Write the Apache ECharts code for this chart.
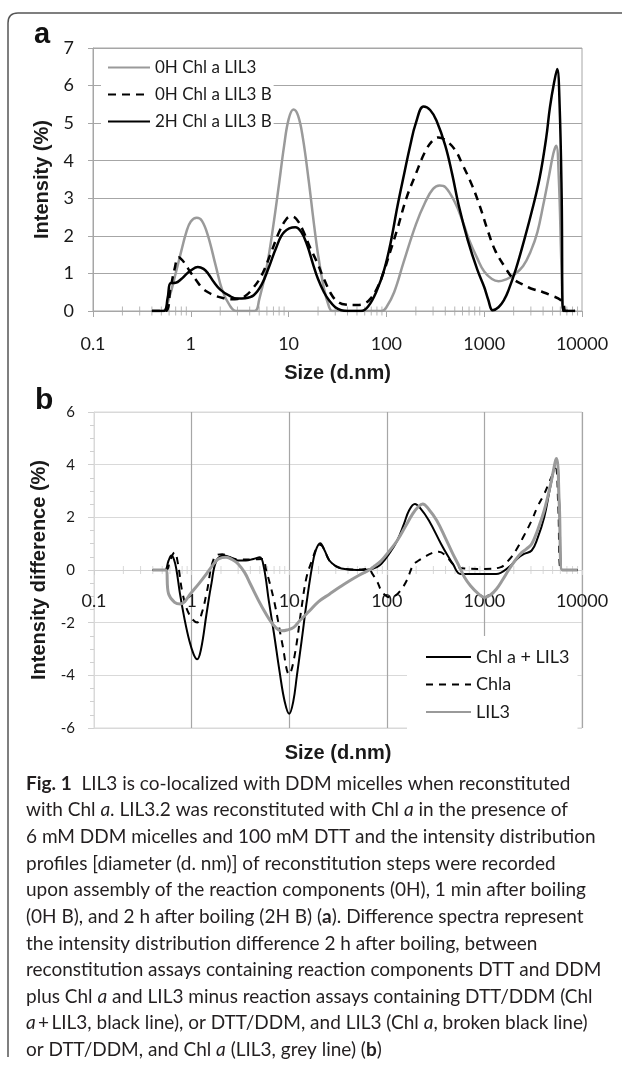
<!DOCTYPE html>
<html>
<head>
<meta charset="utf-8">
<script src="https://cdn.jsdelivr.net/npm/echarts@6/dist/echarts.min.js"></script>
<style>
html,body{margin:0;padding:0;background:#fff;}
#chart{width:622px;height:1067px;}
</style>
</head>
<body>
<div id="chart"></div>
<script>
// ---------- DATA ----------
const xTickLabels = ['0.1', '1', '10', '100', '1000', '10000'];

// Panel a: Intensity (%) vs size (d.nm)
const a_0H = [[0.4,0],[0.52,0],[0.6,0.35],[0.7,1.0],[0.8,1.6],[0.9,2.1],[1.0,2.38],[1.15,2.48],[1.3,2.4],[1.5,2.0],[1.8,1.2],[2.1,0.55],[2.5,0.15],[2.9,0],[4.5,0],[5.0,0.3],[6,1.2],[7,2.3],[8,3.4],[9,4.4],[10,5.1],[11.2,5.36],[12.5,5.2],[14,4.6],[16,3.5],[18,2.4],[20,1.5],[23,0.6],[26,0.1],[28,0],[90,0],[100,0.1],[120,0.5],[150,1.3],[200,2.3],[250,2.9],[300,3.25],[350,3.34],[400,3.3],[500,2.9],[600,2.4],[700,1.9],[850,1.4],[1000,1.05],[1200,0.85],[1400,0.79],[1700,0.85],[2000,0.95],[2500,1.2],[3000,1.6],[3500,2.1],[4000,2.8],[4600,3.6],[5100,4.2],[5450,4.4],[5800,3.5],[6200,1.0],[6500,0],[8500,0]];
const a_0HB = [[0.4,0],[0.55,0],[0.62,0.6],[0.68,1.1],[0.75,1.43],[0.82,1.35],[0.9,1.2],[1.0,1.02],[1.15,0.8],[1.3,0.62],[1.5,0.5],[1.8,0.4],[2.2,0.34],[2.6,0.31],[3.0,0.32],[3.6,0.4],[4.3,0.6],[5.3,0.95],[6.5,1.5],[8,2.1],[9.5,2.45],[10.7,2.52],[12,2.45],[14,2.15],[16.5,1.7],[19.5,1.3],[23,0.85],[28,0.4],[33,0.22],[38,0.17],[50,0.16],[60,0.2],[70,0.35],[80,0.6],[90,0.9],[110,1.6],[130,2.2],[160,3.0],[200,3.65],[250,4.25],[300,4.55],[340,4.62],[400,4.55],[500,4.3],[600,3.9],[750,3.35],[900,2.8],[1100,2.1],[1300,1.6],[1600,1.2],[2000,0.85],[2500,0.7],[3000,0.6],[4000,0.5],[5000,0.4],[6000,0.3],[6500,0.15],[6800,0],[8500,0]];
const a_2HB = [[0.4,0],[0.53,0],[0.58,0.35],[0.62,0.74],[0.7,0.75],[0.8,0.85],[0.9,0.98],[1.0,1.08],[1.18,1.17],[1.35,1.12],[1.5,1.0],[1.72,0.77],[2.0,0.57],[2.5,0.4],[3.0,0.33],[3.6,0.34],[4.4,0.42],[5.3,0.7],[6.3,1.17],[7.5,1.7],[9,2.1],[11.7,2.23],[13.5,2.1],[15.5,1.75],[17.7,1.26],[20,0.85],[23,0.5],[26,0.28],[30,0.1],[34.5,0.02],[40,0],[55,0],[65,0.12],[80,0.55],[95,1.1],[110,1.79],[130,2.8],[152,3.65],[175,4.4],[200,5.0],[240,5.44],[280,5.35],[325,5.07],[400,4.4],[470,3.65],[550,2.8],[680,1.88],[850,1.1],[1000,0.64],[1100,0.3],[1220,0.02],[1400,0.1],[1600,0.3],[1770,0.55],[2100,1.1],[2560,1.88],[3100,2.7],[3700,3.56],[4300,4.6],[4700,5.42],[5200,6.1],[5580,6.44],[5900,5.5],[6200,3.0],[6400,0],[8500,0]];

// Panel b: Intensity difference (%) vs size (d.nm)
const b_ChlaLIL3 = [[0.4,0],[0.53,0],[0.58,0.35],[0.62,0.55],[0.66,0.4],[0.7,0],[0.76,-0.9],[0.84,-1.8],[0.95,-2.7],[1.05,-3.2],[1.14,-3.39],[1.25,-3.0],[1.42,-1.68],[1.6,-0.5],[1.8,0.36],[2.16,0.55],[2.6,0.45],[3.0,0.36],[3.6,0.36],[4.3,0.42],[5.0,0.48],[5.5,0.1],[6.2,-1.2],[7.0,-2.44],[8.0,-3.9],[9.0,-5.0],[10,-5.46],[11,-5.0],[12,-4.0],[13.4,-2.69],[15,-1.3],[17.1,0.1],[18.7,0.74],[20.8,1.02],[23,0.75],[25.8,0.36],[30,0.15],[34.3,0.06],[50,0],[66,0.02],[80,0.12],[88,0.23],[105,0.6],[128,1.12],[150,1.75],[169,2.26],[194,2.51],[220,2.35],[270,1.88],[360,0.99],[420,0.55],[475,0.23],[570,-0.15],[870,-0.15],[1320,-0.15],[1770,0.1],[2200,0.45],[2550,0.61],[3050,0.74],[3500,1.2],[4100,2.0],[4700,3.1],[5470,4.16],[5850,2.5],[6270,0],[9000,0]];
const b_Chla = [[0.4,0],[0.55,0],[0.6,0.35],[0.67,0.67],[0.72,0.3],[0.81,-0.9],[0.95,-1.7],[1.14,-1.99],[1.28,-1.6],[1.42,-0.9],[1.71,0.48],[2.06,0.6],[2.6,0.45],[3,0.4],[4,0.4],[5.3,0.42],[5.8,0],[7,-1.17],[8.5,-2.8],[10,-3.96],[11.3,-3.3],[13.4,-1.42],[15,-0.3],[17.1,0.36],[19.5,0.9],[21,0.95],[23,0.75],[25.8,0.36],[30,0.15],[40,0.03],[55,0.02],[66,0.05],[70,-0.1],[80,-0.45],[88,-0.79],[100,-1.0],[110,-1.04],[125,-0.95],[140,-0.75],[160,-0.4],[187,0.2],[210,0.35],[245,0.5],[290,0.64],[340,0.69],[400,0.55],[475,0.23],[550,0.1],[625,0.06],[1000,0.04],[1450,0.1],[1800,0.4],[2100,0.74],[2500,1.25],[3050,1.88],[3500,2.4],[4100,2.89],[4700,3.4],[5350,3.85],[5700,2.5],[6100,0],[9000,0]];
const b_LIL3 = [[0.4,0],[0.54,0],[0.58,-0.9],[0.67,-1.23],[0.77,-1.29],[0.85,-1.2],[0.97,-0.91],[1.2,-0.5],[1.42,-0.15],[1.7,0.25],[1.89,0.42],[2.26,0.48],[2.6,0.4],[3.0,0.23],[3.5,-0.1],[4.0,-0.53],[5.3,-1.42],[7.0,-2.12],[8.4,-2.31],[9.5,-2.28],[11.1,-2.18],[13,-1.9],[16.2,-1.55],[20,-1.2],[26,-0.91],[33,-0.65],[41.6,-0.41],[52,-0.2],[66,0],[75,0.15],[88,0.36],[105,0.7],[128,1.12],[155,1.65],[184,2.13],[210,2.4],[233,2.51],[270,2.3],[325,1.88],[400,1.2],[475,0.61],[550,0.15],[625,-0.28],[720,-0.6],[870,-0.91],[1000,-1.04],[1150,-0.95],[1330,-0.72],[1550,-0.35],[1770,0],[2050,0.35],[2330,0.61],[2700,0.8],[3050,0.99],[3500,1.5],[4100,2.26],[4800,3.3],[5470,4.23],[5850,2.5],[6270,0],[9000,0]];

const seriesNamesA = ['0H Chl a LIL3', '0H Chl a LIL3 B', '2H Chl a LIL3 B'];
const seriesNamesB = ['Chl a + LIL3', 'Chla', 'LIL3'];

const captionLines = [
  '{b|Fig. 1}  LIL3 is co-localized with DDM micelles when reconstituted',
  'with Chl {i|a}. LIL3.2 was reconstituted with Chl {i|a} in the presence of',
  '6 mM DDM micelles and 100 mM DTT and the intensity distribution',
  'profiles [diameter (d. nm)] of reconstitution steps were recorded',
  'upon assembly of the reaction components (0H), 1 min after boiling',
  '(0H B), and 2 h after boiling (2H B) ({b|a}). Difference spectra represent',
  'the intensity distribution difference 2 h after boiling, between',
  'reconstitution assays containing reaction components DTT and DDM',
  'plus Chl {i|a} and LIL3 minus reaction assays containing DTT/DDM (Chl',
  '{i|a}\u2009+\u2009LIL3, black line), or DTT/DDM, and LIL3 (Chl {i|a}, broken black line)',
  'or DTT/DDM, and Chl {i|a} (LIL3, grey line) ({b|b})'
];

// log-axis minor tick positions (2..9 per decade)
const minorTicks = [];
[0.1, 1, 10, 100, 1000].forEach(d => { for (let k = 2; k <= 9; k++) minorTicks.push(+(d * k).toPrecision(6)); });

// ---------- STYLE ----------
const FONT = 'Lato';
const TXT = '#1a1a1a';
const GREY = '#9a9a9a';
const SMOOTH = 0.4;

const chart = echarts.init(document.getElementById('chart'), null, {renderer: 'canvas'});

function xLog(gridIndex, extra) {
  return Object.assign({
    type: 'log', logBase: 10, min: 0.1, max: 10000, gridIndex: gridIndex,
    name: 'Size (d.nm)', nameLocation: 'middle',
    nameTextStyle: {fontFamily: 'Liberation Sans', fontWeight: 'bold', fontSize: 20, color: TXT},
    minorTick: {show: false}
  }, extra);
}

const cap = captionLines.map((t, i) => ({
  type: 'text', left: 26, top: 785 + i * 26.65 - 11,
  style: {
    text: t, fontFamily: FONT, fontSize: 19, fill: '#231f20',
    rich: {
      b: {fontFamily: FONT, fontSize: 19, fontWeight: 'bold', fill: '#231f20'},
      i: {fontFamily: FONT, fontSize: 19, fontStyle: 'italic', fill: '#231f20'}
    }
  }
}));

function lineSeries(name, xi, data, color, width, dash, z) {
  return {
    name: name, type: 'line', xAxisIndex: xi, yAxisIndex: xi, data: data,
    showSymbol: false, symbol: 'none', smooth: SMOOTH,
    lineStyle: {color: color, width: width, type: dash || 'solid', join: 'round'},
    itemStyle: {color: color}, z: z
  };
}

const option = {
  animation: false,
  backgroundColor: '#fff',
  grid: [
    {left: 93, top: 48, width: 489, height: 263, show: true, borderColor: '#a6a6a6', borderWidth: 1, backgroundColor: 'transparent'},
    {left: 94, top: 412, width: 488, height: 316, show: true, borderColor: '#d9d9d9', borderWidth: 1, backgroundColor: 'transparent'}
  ],
  xAxis: [
    xLog(0, {
      nameGap: 52,
      axisLine: {lineStyle: {color: '#a6a6a6', width: 1}},
      axisTick: {show: true, length: 6, lineStyle: {color: '#a6a6a6'}},
      axisLabel: {fontFamily: FONT, fontSize: 18, color: TXT, margin: 24, formatter: (v, i) => xTickLabels[i]},
      splitLine: {show: false}
    }),
    xLog(1, {
      nameGap: 173,
      offset: -158,
      axisLine: {onZero: false, lineStyle: {color: '#cfcfcf', width: 1}},
      axisTick: {show: true, length: 5, lineStyle: {color: '#cfcfcf'}},
      axisLabel: {fontFamily: FONT, fontSize: 18, color: TXT, margin: 22, formatter: (v, i) => xTickLabels[i]},
      splitLine: {show: true, showMinLine: false, lineStyle: {color: '#a6a6a6', width: 1.2}}
    })
  ],
  yAxis: [
    {
      type: 'value', gridIndex: 0, min: 0, max: 7, interval: 1,
      name: 'Intensity (%)', nameLocation: 'middle', nameGap: 39, nameRotate: 90,
      nameTextStyle: {fontFamily: 'Liberation Sans', fontWeight: 'bold', fontSize: 20, color: TXT},
      axisLine: {show: true, lineStyle: {color: '#a6a6a6'}},
      axisTick: {show: true, length: 5, lineStyle: {color: '#a6a6a6'}},
      axisLabel: {fontFamily: FONT, fontSize: 18, color: TXT, margin: 19},
      splitLine: {show: true, lineStyle: {color: '#a6a6a6', width: 1}}
    },
    {
      type: 'value', gridIndex: 1, min: -6, max: 6, interval: 2,
      name: 'Intensity difference (%)', nameLocation: 'middle', nameGap: 34, nameRotate: 90,
      nameTextStyle: {fontFamily: 'Liberation Sans', fontWeight: 'bold', fontSize: 20, color: TXT},
      axisLine: {show: true, onZero: false, lineStyle: {color: '#d9d9d9'}},
      axisTick: {show: true, length: 6, lineStyle: {color: '#d0d0d0'}},
      minorTick: {show: true, splitNumber: 4, length: 4, lineStyle: {color: '#d0d0d0'}},
      axisLabel: {fontFamily: FONT, fontSize: 15, color: TXT, margin: 19},
      splitLine: {show: true, lineStyle: {color: '#d9d9d9', width: 1}}
    }
  ],
  legend: [
    {
      data: seriesNamesA, orient: 'vertical', left: 101, top: 53, z: 1,
      itemWidth: 42, itemHeight: 14, itemGap: 10,
      padding: [6, 2, 6, 6], backgroundColor: '#fff',
      itemStyle: {opacity: 0},
      textStyle: {fontFamily: FONT, fontSize: 17, color: TXT}
    },
    {
      data: seriesNamesB, orient: 'vertical', left: 407, top: 636, z: 1,
      itemWidth: 45, itemHeight: 14, itemGap: 9.5,
      padding: [12, 8, 10, 18], backgroundColor: '#fff',
      itemStyle: {opacity: 0},
      textStyle: {fontFamily: FONT, fontSize: 18, color: TXT}
    }
  ],
  series: [
    {type: 'scatter', xAxisIndex: 0, yAxisIndex: 0, silent: true, symbol: 'rect', symbolSize: [1, 9],
     itemStyle: {color: '#a6a6a6'}, data: minorTicks.map(v => [v, 0]), z: 1},
    {type: 'scatter', xAxisIndex: 1, yAxisIndex: 1, silent: true, symbol: 'rect', symbolSize: [1, 8],
     itemStyle: {color: '#cfcfcf'}, data: minorTicks.map(v => [v, 0]), z: 1},
    lineSeries(seriesNamesA[0], 0, a_0H, GREY, 2.5, null, 3),
    lineSeries(seriesNamesA[1], 0, a_0HB, '#000', 2.5, [8, 6], 4),
    lineSeries(seriesNamesA[2], 0, a_2HB, '#000', 2.5, null, 5),
    lineSeries(seriesNamesB[0], 1, b_ChlaLIL3, '#000', 2, null, 3),
    lineSeries(seriesNamesB[1], 1, b_Chla, '#000', 2, [7, 6], 4),
    lineSeries(seriesNamesB[2], 1, b_LIL3, GREY, 3, null, 5)
  ],
  graphic: [
    {type: 'line', shape: {x1: 8, y1: 23, x2: 8, y2: 1057}, style: {stroke: '#555', lineWidth: 1.5}, silent: true},
    {type: 'line', shape: {x1: 18, y1: 13, x2: 622, y2: 13}, style: {stroke: '#555', lineWidth: 1.5}, silent: true},
    {type: 'bezierCurve', shape: {x1: 8, y1: 23, x2: 18, y2: 13, cpx1: 8, cpy1: 13}, style: {stroke: '#555', lineWidth: 1.5, fill: null}, silent: true},
    {type: 'text', left: 34, top: 20, style: {text: 'a', fontFamily: 'Liberation Sans', fontWeight: 'bold', fontSize: 29, fill: '#111'}},
    {type: 'text', left: 35, top: 386, style: {text: 'b', fontFamily: 'Liberation Sans', fontWeight: 'bold', fontSize: 30, fill: '#111'}}
  ].concat(cap)
};

chart.setOption(option);
</script>
</body>
</html>
